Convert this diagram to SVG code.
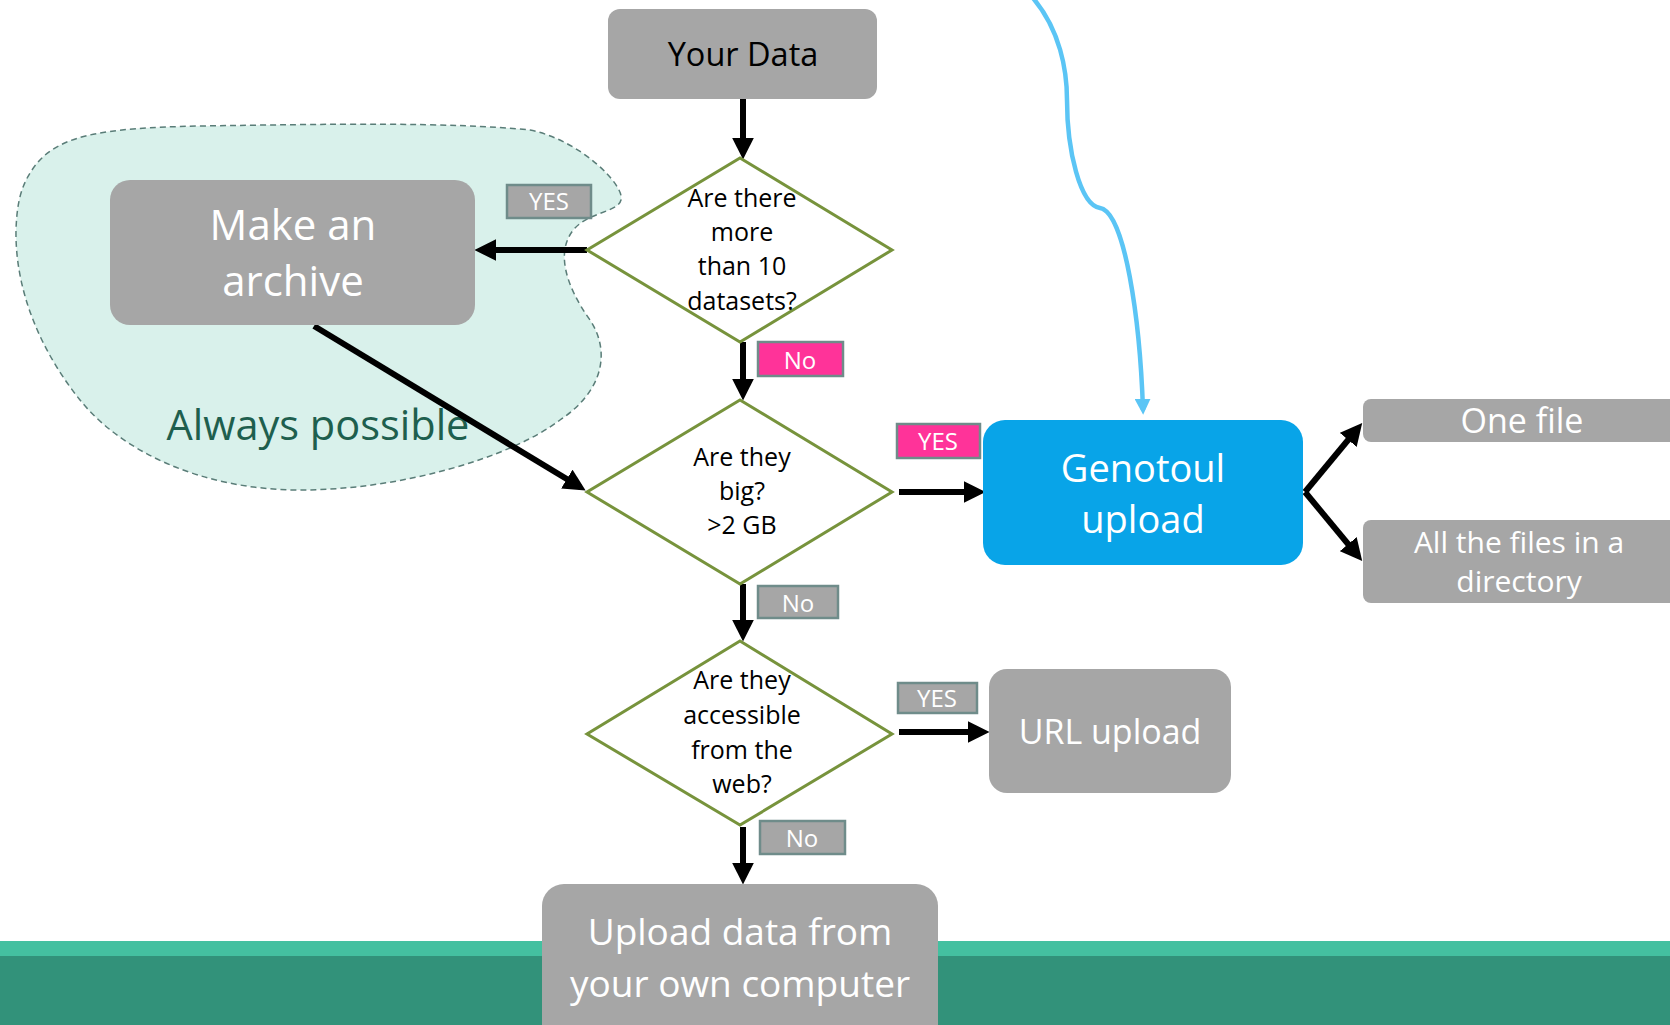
<svg xmlns="http://www.w3.org/2000/svg" width="1670" height="1025" viewBox="0 0 1670 1025">
<defs>
<marker id="ah" viewBox="0 0 10 10" markerUnits="userSpaceOnUse" markerWidth="22" markerHeight="22" refX="7" refY="5" orient="auto"><path d="M0,0 L10,5 L0,10 z" fill="#000"/></marker>
<marker id="ahb" viewBox="0 0 10 10" markerUnits="userSpaceOnUse" markerWidth="16" markerHeight="16" refX="7" refY="5" orient="auto"><path d="M0,0 L10,5 L0,10 z" fill="#5bc5f5"/></marker>
<style>
text{font-family:"Open Sans","Liberation Sans",sans-serif;text-anchor:middle}
.box{fill:#a6a6a6}
.wt{fill:#fff}
.dia{fill:#fff;stroke:#77933c;stroke-width:3}
.dt{font-size:25px;fill:#000}
.lbl{fill:#a6a6a6;stroke:#6f8c8a;stroke-width:2.5}
.pink{fill:#ff3399;stroke:#6f8c8a;stroke-width:2.5}
.lt{font-size:24px;fill:#fff}
.ar{stroke:#000;stroke-width:6;fill:none;marker-end:url(#ah)}
</style>
</defs>
<rect width="1670" height="1025" fill="#fff"/>
<g id="band">
<rect x="0" y="941" width="1670" height="16" fill="#44c0a0"/>
<rect x="0" y="956" width="1670" height="69" fill="#32927a"/>
</g>
<g id="cloud">
<path d="M32,170 C55,135 100,128 200,126 C330,124 450,122 530,130 C580,140 625,185 621,200 C618,212 590,212 575,228 C555,250 565,285 590,320 C610,350 605,390 560,420 C510,458 400,490 300,490 C200,490 120,450 80,400 C40,350 15,290 16,230 C17,200 22,185 32,170 Z" fill="#d9f1eb" stroke="#5a7d78" stroke-width="1.5" stroke-dasharray="6,4"/>
<text x="318" y="440" font-size="41.5" fill="#1e5f4e">Always possible</text>
</g>
<g id="connectors">
<line class="ar" x1="743" y1="99" x2="743" y2="153"/>
<line class="ar" x1="587" y1="250" x2="481" y2="250"/>
<line class="ar" x1="314" y1="326" x2="580" y2="487"/>
<line class="ar" x1="743" y1="342" x2="743" y2="394"/>
<line class="ar" x1="899" y1="492" x2="979" y2="492"/>
<line class="ar" x1="743" y1="584" x2="743" y2="635"/>
<line class="ar" x1="899" y1="732" x2="983" y2="732"/>
<line class="ar" x1="743" y1="827" x2="743" y2="878"/>
<path class="ar" d="M1305,492 L1358,428"/>
<path class="ar" d="M1305,492 L1358,556"/>
<path d="M1033,-2 C1060,30 1067,70 1067,100 C1067,150 1080,205 1100,208 C1125,212 1140,320 1143,410" fill="none" stroke="#5bc5f5" stroke-width="4.5" marker-end="url(#ahb)"/>
</g>
<g id="your-data">
<rect class="box" x="608" y="9" width="269" height="90" rx="12"/>
<text x="743" y="66" font-size="32.5" fill="#000">Your Data</text>
</g>
<g id="q1">
<polygon class="dia" points="740,158 892,250 740,342 587,250"/>
<text class="dt" x="742" y="207">Are there</text>
<text class="dt" x="742" y="241">more</text>
<text class="dt" x="742" y="275">than 10</text>
<text class="dt" x="742" y="310">datasets?</text>
</g>
<g id="yes1">
<rect class="lbl" x="507" y="185" width="84" height="33"/>
<text class="lt" x="549" y="210">YES</text>
</g>
<g id="archive">
<rect class="box" x="110" y="180" width="365" height="145" rx="20"/>
<text class="wt" x="293" y="240" font-size="42">Make an</text>
<text class="wt" x="293" y="296" font-size="42">archive</text>
</g>
<g id="no1">
<rect class="pink" x="758" y="342" width="85" height="34"/>
<text class="lt" x="800" y="369" font-size="26">No</text>
</g>
<g id="q2">
<polygon class="dia" points="740,400 892,492 740,584 587,492"/>
<text class="dt" x="742" y="466">Are they</text>
<text class="dt" x="742" y="500">big?</text>
<text class="dt" x="742" y="534">&gt;2 GB</text>
</g>
<g id="yes2">
<rect class="pink" x="897" y="424" width="83" height="34"/>
<text class="lt" x="938" y="450">YES</text>
</g>
<g id="genotoul">
<rect x="983" y="420" width="320" height="145" rx="22" fill="#08a4e8"/>
<text class="wt" x="1143" y="482" font-size="38">Genotoul</text>
<text class="wt" x="1143" y="533" font-size="38">upload</text>
</g>
<g id="one-file">
<rect class="box" x="1363" y="399" width="330" height="43" rx="8"/>
<text class="wt" x="1522" y="433" font-size="34">One file</text>
</g>
<g id="all-files">
<rect class="box" x="1363" y="520" width="330" height="83" rx="8"/>
<text class="wt" x="1519" y="553" font-size="30">All the files in a</text>
<text class="wt" x="1519" y="592" font-size="30">directory</text>
</g>
<g id="no2">
<rect class="lbl" x="758" y="586" width="80" height="32"/>
<text class="lt" x="798" y="612" font-size="26">No</text>
</g>
<g id="q3">
<polygon class="dia" points="740,641 892,734 740,825 587,734"/>
<text class="dt" x="742" y="689">Are they</text>
<text class="dt" x="742" y="724">accessible</text>
<text class="dt" x="742" y="759">from the</text>
<text class="dt" x="742" y="793">web?</text>
</g>
<g id="yes3">
<rect class="lbl" x="898" y="683" width="79" height="30"/>
<text class="lt" x="937" y="707">YES</text>
</g>
<g id="url-upload">
<rect class="box" x="989" y="669" width="242" height="124" rx="18"/>
<text class="wt" x="1110" y="744" font-size="34">URL upload</text>
</g>
<g id="no3">
<rect class="lbl" x="760" y="821" width="85" height="33"/>
<text class="lt" x="802" y="847" font-size="26">No</text>
</g>
<g id="own-computer">
<rect class="box" x="542" y="884" width="396" height="170" rx="22"/>
<text class="wt" x="740" y="945" font-size="37">Upload data from</text>
<text class="wt" x="740" y="997" font-size="37">your own computer</text>
</g>
</svg>
